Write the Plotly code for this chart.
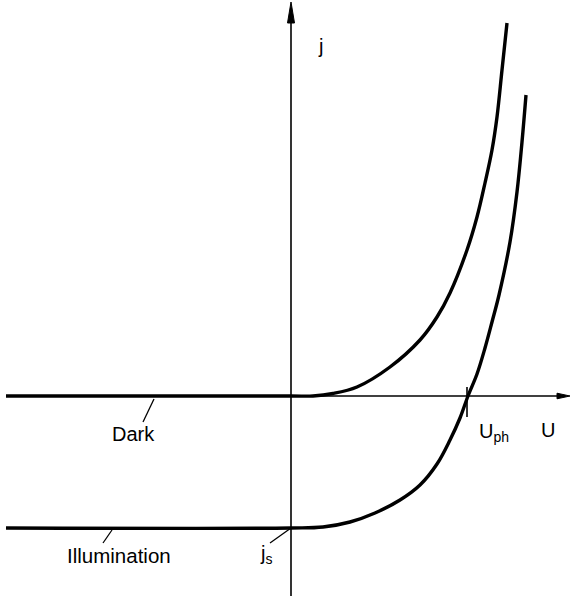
import plotly.graph_objects as go

# Current density j versus voltage U (arbitrary units) for a photodiode
dark_u = [-2.85, 0.0, 0.22, 0.42, 0.66, 0.99, 1.29, 1.46, 1.59, 1.76, 1.86, 1.94, 2.01, 2.06, 2.11, 2.16]
dark_j = [0.0, 0.0, 0.0, 0.025, 0.09, 0.29, 0.56, 0.79, 1.03, 1.46, 1.79, 2.13, 2.46, 2.79, 3.26, 3.73]

illum_u = [-2.85, 0.0, 0.32, 0.59, 0.84, 1.09, 1.29, 1.46, 1.59, 1.69, 1.77, 1.86, 1.94, 2.01, 2.08, 2.19, 2.26, 2.31, 2.35]
illum_j = [-1.32, -1.32, -1.31, -1.26, -1.17, -1.04, -0.89, -0.68, -0.44, -0.22, 0.0, 0.22, 0.48, 0.74, 1.01, 1.54, 2.04, 2.54, 3.01]

u_ph = 1.77      # open-circuit photovoltage
j_s = -1.32      # short-circuit current density

x_range = [-2.91, 2.80]
y_range = [-2.00, 3.96]

FONT = "Liberation Sans, Arial, sans-serif"
INK = "#000000"

fig = go.Figure()

for u, j in ((dark_u, dark_j), (illum_u, illum_j)):
    fig.add_trace(go.Scatter(
        x=u, y=j, mode="lines",
        line=dict(color=INK, width=3.4, shape="spline", smoothing=1.0),
        hoverinfo="skip", showlegend=False,
    ))

shapes = [
    # U axis with arrow
    dict(type="line", x0=-2.85, y0=0, x1=2.70, y1=0, line=dict(color=INK, width=1.6)),
    dict(type="path", path="M 2.66,-0.028 L 2.79,0 L 2.66,0.028 Z",
         fillcolor=INK, line=dict(color=INK, width=1)),
    # j axis with arrow
    dict(type="line", x0=0, y0=y_range[0], x1=0, y1=3.80, line=dict(color=INK, width=1.6)),
    dict(type="path", path="M -0.035,3.73 L 0,3.94 L 0.035,3.73 Z",
         fillcolor=INK, line=dict(color=INK, width=1)),
    # tick marking U_ph
    dict(type="line", x0=u_ph - 0.01, y0=0.09, x1=u_ph - 0.01, y1=-0.21, line=dict(color=INK, width=1.6)),
    # leader lines
    dict(type="line", x0=-1.37, y0=-0.03, x1=-1.48, y1=-0.26, line=dict(color=INK, width=1.3)),
    dict(type="line", x0=-1.79, y0=j_s - 0.02, x1=-1.88, y1=-1.47, line=dict(color=INK, width=1.3)),
    dict(type="line", x0=0, y0=j_s, x1=-0.21, y1=-1.47, line=dict(color=INK, width=1.3)),
]

def label(text, x, y, xanchor="center", size=20):
    return dict(text=text, x=x, y=y, xref="x", yref="y", showarrow=False,
                xanchor=xanchor, yanchor="middle",
                font=dict(family=FONT, size=size, color=INK))

annotations = [
    label("j", 0.29, 3.50),
    label("U", 2.57, -0.34),
    label("U<sub>ph</sub>", 1.86, -0.36, xanchor="left"),
    label("Dark", -1.58, -0.38),
    label("Illumination", -1.72, -1.59, size=20.5),
    label("j<sub>s</sub>", -0.25, -1.58),
]

fig.update_layout(
    width=571, height=596,
    margin=dict(l=0, r=0, t=0, b=0),
    paper_bgcolor="white", plot_bgcolor="white",
    xaxis=dict(range=x_range, visible=False, fixedrange=True),
    yaxis=dict(range=y_range, visible=False, fixedrange=True),
    shapes=shapes, annotations=annotations,
    showlegend=False,
)

fig.write_html("out.html", config={"displayModeBar": False})
